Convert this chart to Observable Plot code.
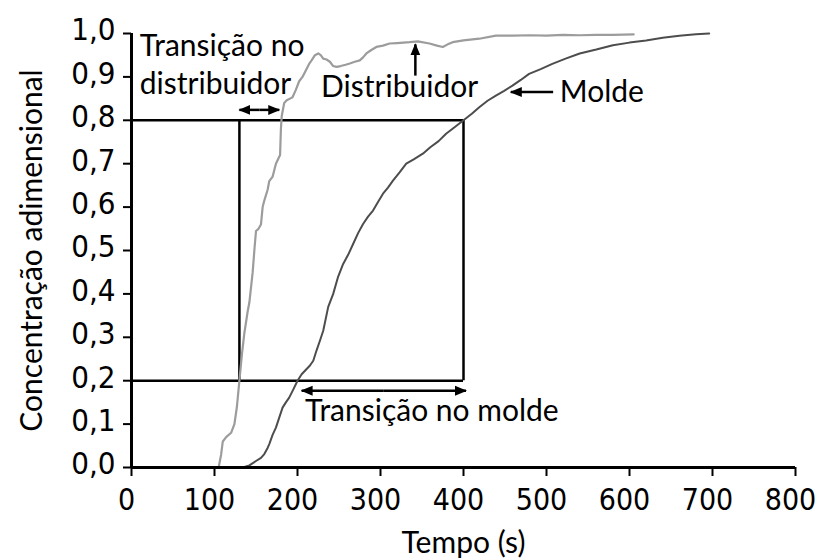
<!DOCTYPE html>
<html>
<head>
<meta charset="utf-8">
<script src="https://cdn.jsdelivr.net/npm/d3@7"></script>
<script src="https://cdn.jsdelivr.net/npm/@observablehq/plot@0.6"></script>
<style>
  html, body { margin: 0; padding: 0; background: #fff; }
  #chart { width: 815px; height: 560px; }
</style>
</head>
<body>
<div id="chart"></div>
<script>
// ---- data ----
const distribT = [105,108,110,114,120,124,127,130,133,136,140,142,146,148,150,153,156,158,160,164,166,168,170,174,179,180,181,184,187,191,194,198,202,206,210,214,217,221,225,228,231,235,239,243,247,252,258,263,269,275,279,283,289,295,303,311,320,335,345,359,368,375,381,387,400,419,439,460,480,500,520,540,560,580,605];
const distribC = [0,0.03,0.06,0.07,0.08,0.10,0.14,0.20,0.26,0.31,0.36,0.38,0.45,0.50,0.545,0.55,0.56,0.60,0.615,0.64,0.66,0.665,0.67,0.70,0.72,0.78,0.81,0.84,0.846,0.85,0.853,0.87,0.89,0.90,0.915,0.93,0.938,0.95,0.954,0.95,0.942,0.94,0.935,0.925,0.923,0.925,0.928,0.931,0.935,0.938,0.945,0.954,0.962,0.969,0.972,0.977,0.978,0.98,0.982,0.977,0.972,0.969,0.975,0.98,0.984,0.988,0.995,0.995,0.996,0.995,0.997,0.996,0.997,0.997,0.998];

const moldeT = [134,142,150,156,160,164,166,170,174,178,182,186,190,195,200,205,211,215,219,223,227,231,237,243,249,255,261,267,273,279,285,291,297,303,309,315,323,331,340,351,360,370,379,390,400,410,419,429,439,449,459,469,479,493,507,523,540,560,580,600,620,640,660,680,696];
const moldeC = [0,0.005,0.015,0.022,0.031,0.045,0.054,0.075,0.092,0.115,0.138,0.15,0.161,0.18,0.2,0.215,0.227,0.235,0.246,0.27,0.292,0.315,0.37,0.40,0.44,0.469,0.49,0.515,0.54,0.561,0.578,0.592,0.612,0.631,0.645,0.661,0.68,0.70,0.71,0.723,0.738,0.752,0.769,0.785,0.80,0.815,0.83,0.845,0.857,0.868,0.88,0.893,0.907,0.918,0.93,0.942,0.954,0.963,0.973,0.979,0.984,0.99,0.995,0.998,1.0];

const xTicks = [0,100,200,300,400,500,600,700,800];
const yTicks = [0,0.1,0.2,0.3,0.4,0.5,0.6,0.7,0.8,0.9,1.0];

const levels = [0.2, 0.8];          // transition limits
const distribStart = 130;            // distributor reaches 0.2
const distribEnd = 178;              // distributor reaches 0.8
const moldeStart = 205;              // mould reaches 0.2
const moldeEnd = 400;                // mould reaches 0.8

const labelTexts = ["Transição no", "distribuidor", "Distribuidor", "Molde", "Transição no molde"];
const labelT = [10, 10, 323, 516, 209];
const labelC = [0.971, 0.883, 0.875, 0.864, 0.130];
const labelAnchor = ["start", "start", "middle", "start", "start"];

// arrows
const arrowX1 = [154, 304, 342, 508];
const arrowY1 = [0.824, 0.177, 0.903, 0.865];
const arrowX2 = [distribEnd, moldeEnd + 3, 342, 457];
const arrowY2 = [0.824, 0.177, 0.975, 0.865];

// ---- tables ----
const distrib = distribT.map((t, i) => ({t, c: distribC[i]}));
const molde = moldeT.map((t, i) => ({t, c: moldeC[i]}));
const labels = labelTexts.map((s, i) => ({s, t: labelT[i], c: labelC[i], a: labelAnchor[i]}));
const arrows = arrowX1.map((x1, i) => ({x1, y1: arrowY1[i], x2: arrowX2[i], y2: arrowY2[i]}));
// double-headed arrows drawn as two halves from their midpoint
const arrowsOut = [
  {x1: arrows[0].x1, y1: arrows[0].y1, x2: distribStart, y2: arrows[0].y1},
  {x1: arrows[1].x1, y1: arrows[1].y1, x2: moldeStart, y2: arrows[1].y1}
];

function head(color, context) {
  const m = d3.create("svg:marker")
    .attr("viewBox", "-11 -6 12 12")
    .attr("markerWidth", 12)
    .attr("markerHeight", 12)
    .attr("markerUnits", "userSpaceOnUse")
    .attr("refX", 0).attr("refY", 0)
    .attr("orient", "auto")
    .attr("fill", color)
    .attr("stroke", "none");
  m.append("path").attr("d", "M-11,-5L1,0L-11,5Z");
  return m.node();
}

const fmt = d => d.toFixed(1).replace(".", ",");
const tickFont = "'Liberation Sans Narrow', 'Arial Narrow', 'DejaVu Sans Condensed', Lato, sans-serif";

const chart = Plot.plot({
  width: 815,
  height: 560,
  marginLeft: 131,
  marginRight: 20,
  marginTop: 33,
  marginBottom: 93,
  style: {fontFamily: "Lato, 'Open Sans', sans-serif", fontSize: "30px", color: "#000", background: "#fff"},
  x: {domain: [0, 800]},
  y: {domain: [0, 1]},
  marks: [
    // tick marks
    Plot.axisX({ticks: xTicks, tickSize: 9, tickFormat: () => "", strokeWidth: 2, label: null}),
    Plot.axisY({ticks: yTicks, tickSize: 8, tickFormat: () => "", strokeWidth: 2, label: null}),
    // tick labels
    Plot.axisX({ticks: xTicks, tickSize: 0, tickPadding: 21, tickFormat: d => String(d), fontSize: 30, fontFamily: tickFont, dx: -5, label: null}),
    Plot.axisY({ticks: yTicks, tickSize: 0, tickPadding: 16, tickFormat: fmt, fontSize: 31, fontFamily: tickFont, dy: -3, label: null}),
    // transition box
    Plot.ruleY(levels, {x1: 0, x2: moldeEnd, stroke: "#000", strokeWidth: 2.5}),
    Plot.ruleX([distribStart, moldeEnd], {y1: levels[0], y2: levels[1], stroke: "#000", strokeWidth: 2.5}),
    // curves
    Plot.line(distrib, {x: "t", y: "c", stroke: "#9c9c9c", strokeWidth: 2.2}),
    Plot.line(molde, {x: "t", y: "c", stroke: "#4d4d4d", strokeWidth: 2}),
    // axis lines
    Plot.ruleX([0], {stroke: "#000", strokeWidth: 3}),
    Plot.ruleY([0], {stroke: "#000", strokeWidth: 3}),
    // arrows
    Plot.link(arrows, {x1: "x1", y1: "y1", x2: "x2", y2: "y2", stroke: "#000", strokeWidth: 2.5, markerEnd: head}),
    Plot.link(arrowsOut, {x1: "x1", y1: "y1", x2: "x2", y2: "y2", stroke: "#000", strokeWidth: 2.5, markerEnd: head}),
    // annotations
    Plot.text(labels.filter(d => d.a === "start"), {x: "t", y: "c", text: "s", textAnchor: "start", lineAnchor: "middle", fontSize: 30, fill: "#000"}),
    Plot.text(labels.filter(d => d.a === "middle"), {x: "t", y: "c", text: "s", textAnchor: "middle", lineAnchor: "middle", fontSize: 30, fill: "#000"}),
    // axis titles
    Plot.text(["Concentração adimensional"], {frameAnchor: "left", dx: -99, rotate: -90, textAnchor: "middle", lineAnchor: "middle", text: d => d, fontSize: 30, fill: "#000"}),
    Plot.text(["Tempo (s)"], {frameAnchor: "bottom", dy: 76, textAnchor: "middle", lineAnchor: "middle", text: d => d, fontSize: 30, fill: "#000"})
  ]
});
document.getElementById("chart").appendChild(chart);
</script>
</body>
</html>
